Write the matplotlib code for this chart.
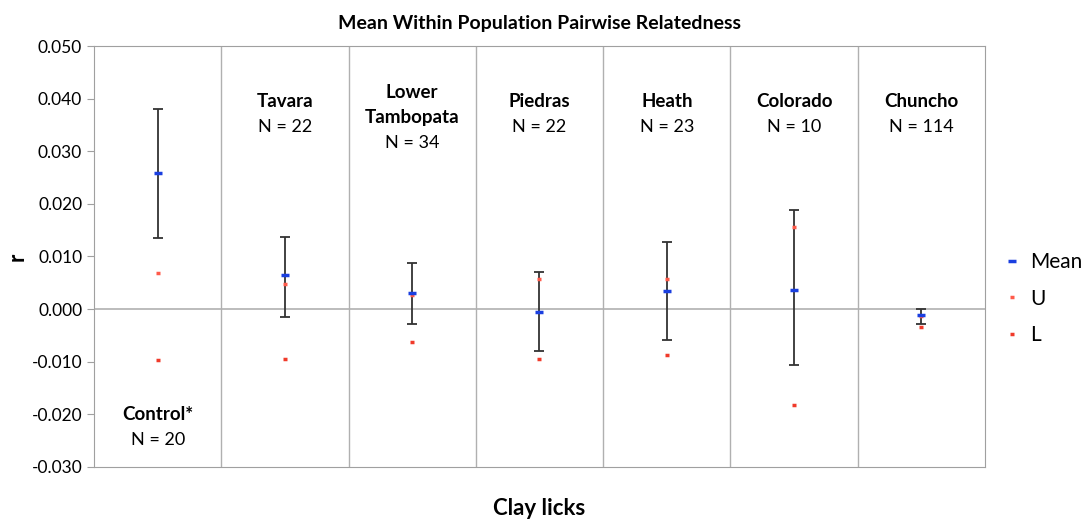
import matplotlib.pyplot as plt
import numpy as np
from matplotlib.lines import Line2D

plt.rcParams['font.family'] = ['Lato', 'DejaVu Sans']

sites = ["Control*", "Tavara", "Lower\nTambopata", "Piedras", "Heath", "Colorado", "Chuncho"]
n_obs = [20, 22, 34, 22, 23, 10, 114]
mean_r = [0.0259, 0.0065, 0.0030, -0.0006, 0.0035, 0.0036, -0.0011]
err_hi = [0.0380, 0.0138, 0.0087, 0.0071, 0.0127, 0.0188, 0.0000]
err_lo = [0.0136, -0.0015, -0.0029, -0.0080, -0.0059, -0.0106, -0.0029]
upper = [0.0069, 0.0048, 0.0027, 0.0058, 0.0057, 0.0156, -0.0013]
lower = [-0.0097, -0.0094, -0.0063, -0.0095, -0.0088, -0.0183, -0.0034]

x = np.arange(len(sites))
mean_r = np.array(mean_r)

fig = plt.figure(figsize=(10.91, 5.24), dpi=100)
ax = fig.add_axes([0.0862, 0.1088, 0.8166, 0.8034])

ax.errorbar(x, mean_r, yerr=[mean_r - np.array(err_lo), np.array(err_hi) - mean_r],
            fmt='none', ecolor='#333333', elinewidth=1.3, capsize=3.5, capthick=1.3, zorder=2)
ax.plot(x, upper, ls='none', marker='_', ms=3.5, mew=2.5, color='#ff5a4a', zorder=3)
ax.plot(x, lower, ls='none', marker='_', ms=3.5, mew=2.5, color='#f03a2a', zorder=3)
ax.plot(x, mean_r, ls='none', marker='_', ms=6, mew=2.5, color='#1a3fe0', zorder=4)

ticks = np.arange(-0.030, 0.0501, 0.010)
ax.set_xlim(-0.5, len(sites) - 0.5)
ax.set_ylim(-0.030, 0.050)
ax.set_yticks(ticks)
ax.set_yticklabels([f"{v:.3f}" if abs(v) > 1e-9 else "0.000" for v in ticks], fontsize=12.5)
ax.set_xticks([])
ax.axhline(0, color='#b0b0b0', lw=1.2, zorder=1)
for b in x[:-1] + 0.5:
    ax.axvline(b, color='#b0b0b0', lw=1.0, zorder=1)
for s in ax.spines.values():
    s.set_color('#a0a0a0')
ax.tick_params(axis='y', color='#a0a0a0', length=5, direction='out')

for i, (name, n) in enumerate(zip(sites, n_obs)):
    if i == 0:
        ax.text(i, -0.0200, name, ha='center', va='center', fontsize=13.5, fontweight='bold')
        ax.text(i, -0.0249, f"N = {n}", ha='center', va='center', fontsize=13)
    elif "\n" in name:
        a, b2 = name.split("\n")
        ax.text(i, 0.0412, a, ha='center', va='center', fontsize=13.5, fontweight='bold')
        ax.text(i, 0.0365, b2, ha='center', va='center', fontsize=13.5, fontweight='bold')
        ax.text(i, 0.0316, f"N = {n}", ha='center', va='center', fontsize=13)
    else:
        ax.text(i, 0.0395, name, ha='center', va='center', fontsize=13.5, fontweight='bold')
        ax.text(i, 0.0346, f"N = {n}", ha='center', va='center', fontsize=13)

ax.set_title("Mean Within Population Pairwise Relatedness", fontsize=14, fontweight='bold', pad=12)
ax.set_xlabel("Clay licks", fontsize=16, fontweight='bold', labelpad=22)
ax.set_ylabel("r", fontsize=16, fontweight='bold', rotation=90, labelpad=3)

handles = [Line2D([], [], ls='none', marker='_', ms=6, mew=2.5, color='#1a3fe0'),
           Line2D([], [], ls='none', marker='_', ms=3.5, mew=2.5, color='#ff5a4a'),
           Line2D([], [], ls='none', marker='_', ms=3.5, mew=2.5, color='#f03a2a')]
fig.legend(handles, ["Mean", "U", "L"], loc='center left', bbox_to_anchor=(0.912, 0.43),
           frameon=False, fontsize=15, handlelength=0.6, handletextpad=0.6, labelspacing=0.8,
           borderpad=0)

fig.savefig("out.png", dpi=100)
